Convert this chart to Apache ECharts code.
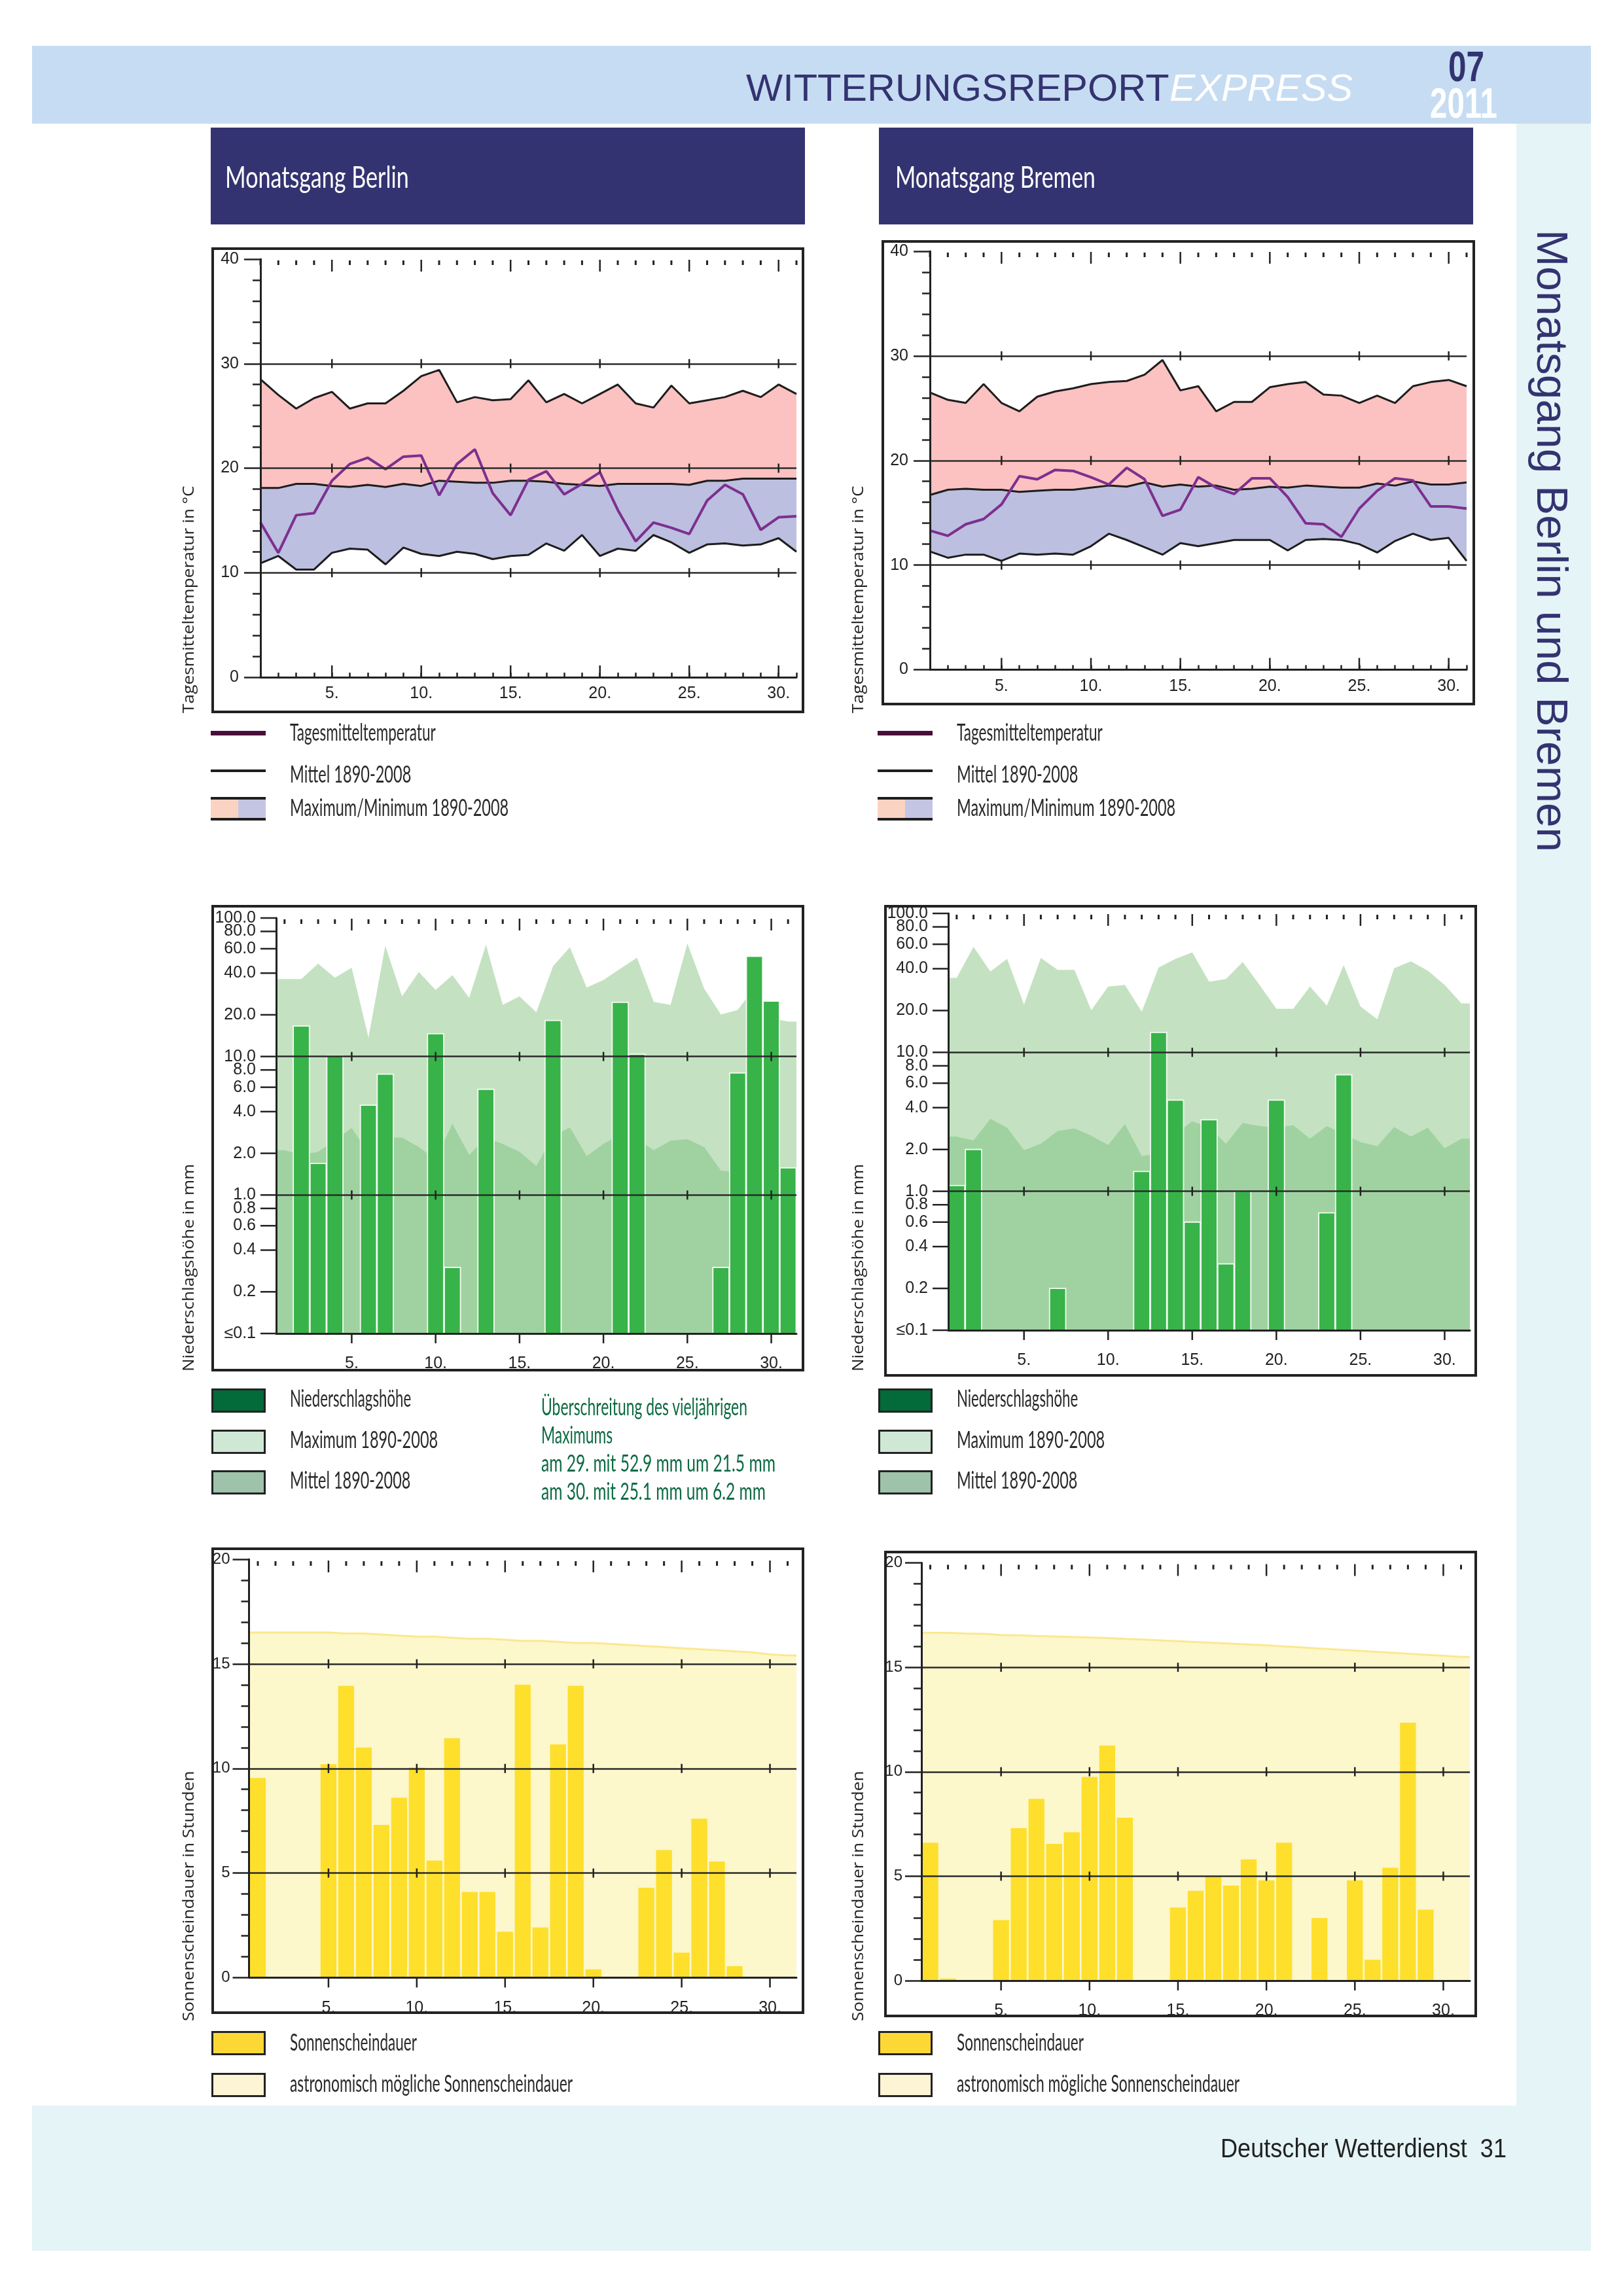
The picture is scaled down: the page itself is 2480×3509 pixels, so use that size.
<!DOCTYPE html>
<html>
<head>
<meta charset="utf-8">
<title>Monatsgang Berlin und Bremen</title>
<script src="https://cdn.jsdelivr.net/npm/echarts@6/dist/echarts.min.js"></script>
<style>
    html,body{margin:0;padding:0;background:#fff;}
    #page{position:relative;width:2480px;height:3509px;overflow:hidden;}
    #chart{position:absolute;left:0;top:0;width:2480px;height:3509px;}
    .fill{position:absolute;box-sizing:border-box;}
    .txt{position:absolute;white-space:pre;line-height:1;}
</style>
</head>
<body>
<div id="page"><div id="chart"></div></div>
<script>
    let days=[];
    for(let d=1;d<=31;d++){days.push(d);}
    let bigDays=[5,10,15,20,25,30];

    // Temperatur
    let berlinTempMax=[28.5,27.0,25.7,26.7,27.3,25.7,26.2,26.2,27.4,28.8,29.4,26.3,26.8,26.5,26.6,28.4,26.3,27.1,26.2,27.1,28.0,26.2,25.8,27.9,26.2,26.5,26.8,27.4,26.8,28.0,27.1];
    let berlinTempMean=[18.1,18.1,18.5,18.5,18.3,18.2,18.4,18.2,18.5,18.3,18.8,18.7,18.6,18.6,18.8,18.8,18.7,18.5,18.4,18.3,18.5,18.5,18.5,18.5,18.4,18.8,18.8,19.0,19.0,19.0,19.0];
    let berlinTempMin=[10.9,11.6,10.3,10.3,11.9,12.3,12.2,10.8,12.4,11.8,11.6,12.0,11.8,11.3,11.6,11.7,12.8,12.1,13.6,11.6,12.3,12.1,13.6,12.9,11.9,12.7,12.8,12.6,12.7,13.3,12.0];
    let berlinTemp=[14.8,11.9,15.5,15.7,18.8,20.4,21.0,19.9,21.1,21.2,17.4,20.4,21.8,17.6,15.5,18.9,19.7,17.5,18.5,19.6,16.0,13.0,14.8,14.3,13.7,16.9,18.4,17.5,14.1,15.3,15.4];
    let bremenTempMax=[26.5,25.8,25.5,27.3,25.5,24.7,26.1,26.6,26.9,27.3,27.5,27.6,28.2,29.6,26.7,27.1,24.7,25.6,25.6,27.0,27.3,27.5,26.3,26.2,25.5,26.2,25.5,27.1,27.5,27.7,27.1];
    let bremenTempMean=[16.7,17.2,17.3,17.2,17.2,17.0,17.1,17.2,17.2,17.4,17.6,17.5,17.9,17.5,17.7,17.5,17.6,17.2,17.3,17.5,17.4,17.6,17.5,17.4,17.4,17.8,17.6,18.0,17.7,17.7,17.9];
    let bremenTempMin=[11.3,10.7,11.0,11.0,10.4,11.1,11.0,11.1,11.0,11.8,13.0,12.4,11.7,11.0,12.1,11.8,12.1,12.4,12.4,12.4,11.4,12.4,12.5,12.4,12.0,11.2,12.3,13.0,12.4,12.6,10.4];
    let bremenTemp=[13.3,12.8,13.9,14.4,15.8,18.5,18.2,19.1,19.0,18.4,17.7,19.3,18.2,14.7,15.3,18.4,17.4,16.8,18.3,18.3,16.5,14.0,13.9,12.7,15.4,17.1,18.3,18.1,15.6,15.6,15.4];

    // Niederschlag
    let berlinRain=[null,16.6,1.69,10.1,null,4.45,7.46,null,null,14.6,0.3,null,5.8,null,null,null,18.2,null,null,null,24.6,10.4,null,null,null,null,0.3,7.6,52.9,25.1,1.57];
    let berlinRainMax=[36.3,36.3,46.8,37.1,43.7,13.7,63,27.2,40.8,30.2,38.7,26.5,64.2,23.6,27.2,20.9,44.9,61.5,31.5,35.7,43,51.7,24.8,23.6,65.6,31,20.1,21.7,31.4,18.9,17.9];
    let berlinRainMean=[2.11,1.95,2.05,2.47,3.05,2.0,2.6,2.6,2.22,1.8,3.27,1.95,2.6,2.34,2.05,1.62,2.67,3.08,1.91,2.34,2.74,2.53,2.11,2.47,2.53,2.22,1.5,1.46,1.46,1.38,1.38];
    let bremenRain=[1.1,2.0,null,null,null,null,0.2,null,null,null,null,1.39,13.9,4.53,0.6,3.27,0.3,1.0,null,4.53,null,null,0.7,6.9,null,null,null,null,null,null,null];
    let bremenRainMax=[34.4,57.5,38.2,47.1,22.1,47.9,39.2,39.2,20.1,29.8,30.6,19.6,40.8,47.1,52.4,32.3,33.7,44.7,30.6,20.6,20.6,29.8,21.7,42.4,21.4,17.3,40.3,45.2,38.7,30.6,22.5];
    let bremenRainMean=[2.48,2.32,3.32,2.87,1.98,2.2,2.72,2.84,2.51,2.15,3.05,1.79,1.88,2.58,3.19,2.9,2.2,3.1,2.95,2.87,2.99,2.39,2.95,2.58,2.26,2.11,2.9,2.48,2.87,2.04,2.39];
    let rainTicks=[0.1,0.2,0.4,0.6,0.8,1,2,4,6,8,10,20,40,60,80,100];
    let rainTickLabels=["≤0.1","0.2","0.4","0.6","0.8","1.0","2.0","4.0","6.0","8.0","10.0","20.0","40.0","60.0","80.0","100.0"];

    // Sonnenschein
    let berlinSun=[9.55,null,null,null,10.2,13.95,11.0,7.3,8.6,10.05,5.6,11.45,4.1,4.1,2.2,14.0,2.4,11.15,13.95,0.4,null,null,4.3,6.1,1.2,7.6,5.55,0.55,null,null,null];
    let berlinSunAstro=[16.5,16.5,16.5,16.5,16.5,16.45,16.45,16.4,16.35,16.3,16.3,16.25,16.2,16.2,16.15,16.1,16.1,16.05,16.0,16.0,15.95,15.9,15.85,15.8,15.75,15.7,15.65,15.6,15.55,15.45,15.4];
    let bremenSun=[6.6,0.1,null,null,2.9,7.3,8.7,6.55,7.1,9.75,11.25,7.8,null,null,3.5,4.3,5.0,4.55,5.8,4.8,6.6,null,3.0,null,4.8,1.0,5.4,12.35,3.4,null,null];
    let bremenSunAstro=[16.65,16.65,16.62,16.6,16.55,16.53,16.5,16.48,16.45,16.43,16.4,16.36,16.33,16.29,16.25,16.21,16.17,16.13,16.09,16.05,16,15.95,15.9,15.85,15.8,15.75,15.7,15.65,15.6,15.55,15.5];

    let ink="#222";
    let labelFont="Liberation Sans";
    let grid=[],xAxis=[],yAxis=[],series=[];

    // erzeugt ein Diagramm: Kategorie-Achse (Balken, Tage) + versteckte Wertachse (Flaechen, Striche)
    function addPanel(p){
        let i=grid.length;
        grid.push({left:p.left,top:p.top,width:p.right-p.left,height:p.bottom-p.top});
        let bars=p.bars;
        xAxis.push({
            type:"category",gridIndex:i,data:days,position:"bottom",boundaryGap:!!bars,z:10,
            axisLine:{onZero:false,lineStyle:{color:ink,width:3}},
            axisTick:{interval:0,alignWithLabel:true,inside:!bars,length:7,lineStyle:{color:ink,width:2.5}},
            axisLabel:{interval:function(k){return days[k]%5==0;},formatter:function(v){return v+".";},
                margin:p.xMargin,fontFamily:labelFont,fontSize:25,color:ink},
            splitLine:{show:false}
        });
        xAxis.push({type:"value",gridIndex:i,show:false,min:bars?0.5:1,max:bars?31.5:31,splitLine:{show:false}});
        let y={
            type:p.log?"log":"value",gridIndex:i,min:p.yMin,max:p.yMax,z:10,
            axisLine:{show:true,lineStyle:{color:ink,width:3}},
            splitLine:{show:true,showMinLine:false,showMaxLine:false,lineStyle:{color:"#2b2b2b",width:2.5}}
        };
        if(p.log){
            y.logBase=10;
            y.axisTick={show:false};
            y.axisLabel={show:false};
        }else{
            y.interval=p.yStep;
            y.axisTick={show:true,length:p.tickLen,lineStyle:{color:ink,width:2.5}};
            y.minorTick={show:true,splitNumber:5,length:12,lineStyle:{color:ink,width:2.5}};
            y.axisLabel={margin:p.yMargin,fontFamily:labelFont,fontSize:p.yFont,color:ink};
        }
        yAxis.push(y);

        let xv=2*i+1;
        // Flaechen
        p.areas.forEach(function(a){
            let pts=days.map(function(d,k){return [d,a.data[k]];});
            if(bars){
                pts.unshift([0.5,a.data[0]]);
                pts.push([31.5,a.data[30]]);
            }
            series.push({
                type:"line",xAxisIndex:xv,yAxisIndex:i,data:pts,symbol:"none",silent:true,z:2,
                lineStyle:{color:a.line||a.fill,width:a.line?a.width:0},
                areaStyle:{color:a.fill,opacity:1,origin:"start"}
            });
        });
        if(p.temp){
            series.push({
                type:"line",xAxisIndex:xv,yAxisIndex:i,symbol:"none",silent:true,z:3,
                data:days.map(function(d,k){return [d,p.temp[k]];}),
                lineStyle:{color:"#7d2f90",width:4}
            });
        }
        if(bars&&p.log){
            // log-Achse: ein Balken wuerde sonst bei 1.0 beginnen, deshalb vom Achsenminimum aus zeichnen
            let rainData=[];
            days.forEach(function(d,k){if(bars[k]!=null){rainData.push([d,bars[k]]);}});
            series.push({
                type:"custom",xAxisIndex:xv,yAxisIndex:i,data:rainData,z:4,silent:true,encode:{x:0,y:1},
                renderItem:function(params,api){
                    let d=api.value(0),v=api.value(1);
                    let top=api.coord([d-0.5,v]);
                    let end=api.coord([d+0.5,p.yMin]);
                    return {type:"rect",shape:{x:top[0]+0.5,y:top[1],width:end[0]-top[0]-1,height:end[1]-top[1]},
                        style:{fill:p.barColor,stroke:p.barBorder,lineWidth:1.8}};
                }
            });
        }else if(bars){
            series.push({
                type:"bar",xAxisIndex:2*i,yAxisIndex:i,data:bars,z:4,silent:true,
                barWidth:p.barWidth,
                itemStyle:{color:p.barColor}
            });
        }
        // Striche oben, auf den Linien und lange Striche an der x-Achse
        function marks(data,size,offset){
            series.push({
                type:"scatter",xAxisIndex:xv,yAxisIndex:i,data:data,symbol:"rect",symbolSize:size,
                symbolOffset:offset,clip:false,silent:true,z:11,itemStyle:{color:ink,opacity:1}
            });
        }
        let small=days.filter(function(d){return d%5!=0;});
        marks(small.map(function(d){return [d,p.yMax];}),[3,7],[0,p.topGap+3.5]);
        marks(bigDays.map(function(d){return [d,p.yMax];}),[2.5,18],[0,p.topGap+8]);
        let cross=[];
        p.levels.forEach(function(l){bigDays.forEach(function(d){cross.push([d,l]);});});
        marks(cross,[2.5,14],[0,0]);
        marks(bigDays.map(function(d){return [d,p.yMin];}),[2.5,p.longTick],[0,bars?p.longTick/2:-p.longTick/2]);

        // Log-Achse: Striche und Beschriftung direkt auf den Achsenwerten
        if(p.log){
            series.push({
                type:"scatter",xAxisIndex:xv,yAxisIndex:i,symbol:"rect",symbolSize:[p.tickLen,2.5],
                symbolOffset:[-p.tickLen/2,0],clip:false,silent:true,z:11,itemStyle:{color:ink,opacity:1},
                data:rainTicks.map(function(v,k){
                    return {value:[0.5,v],label:{show:true,position:"left",distance:7,formatter:rainTickLabels[k],
                        fontFamily:labelFont,fontSize:25,color:ink}};
                })
            });
        }
    }

    let tempCommon={yMin:0,yMax:40,yStep:10,levels:[10,20,30],tickLen:25,yMargin:33,yFont:25,xMargin:13,topGap:2,longTick:18};
    let rainCommon={log:true,yMin:0.1,yMax:100,levels:[1,10],tickLen:24,xMargin:34,topGap:2,longTick:15,
        barColor:"#37b34a",barBorder:"#f4fbf2"};
    let sunCommon={yMin:0,yMax:20,yStep:5,levels:[5,10,15],tickLen:25,yMargin:29,yFont:24,xMargin:34,topGap:3,longTick:15,
        barWidth:"90%",barColor:"#fedf2c"};

    function tempAreas(mx,mean,mn){
        return [{data:mx,fill:"#fcc1c1",line:"#1d1d1d",width:3},{data:mean,fill:"#bcbfdf",line:"#1d1d1d",width:3},{data:mn,fill:"#fff",line:"#1d1d1d",width:3}];
    }
    function rainAreas(mx,mean){
        return [{data:mx,fill:"#c4e2c1"},{data:mean,fill:"#9fd2a0"}];
    }
    function sunAreas(a){
        return [{data:a,fill:"#fdf7cc",line:"#fbe88f",width:3}];
    }

    addPanel(Object.assign({left:398,right:1217,top:396,bottom:1035,areas:tempAreas(berlinTempMax,berlinTempMean,berlinTempMin),temp:berlinTemp},tempCommon));
    addPanel(Object.assign({left:1421,right:2241,top:384,bottom:1023.5,areas:tempAreas(bremenTempMax,bremenTempMean,bremenTempMin),temp:bremenTemp},tempCommon));
    addPanel(Object.assign({left:422,right:1217,top:1403,bottom:2038,areas:rainAreas(berlinRainMax,berlinRainMean),bars:berlinRain},rainCommon));
    addPanel(Object.assign({left:1449,right:2246,top:1396,bottom:2033,areas:rainAreas(bremenRainMax,bremenRainMean),bars:bremenRain},rainCommon));
    addPanel(Object.assign({left:380.5,right:1217,top:2383,bottom:3022.5,areas:sunAreas(berlinSunAstro),bars:berlinSun},sunCommon));
    addPanel(Object.assign({left:1408,right:2246,top:2388.5,bottom:3027,areas:sunAreas(bremenSunAstro),bars:bremenSun},sunCommon));

    let page=document.getElementById("page");
    let chartDiv=document.getElementById("chart");

    // Rechtecke der Seite
    function box(x,y,w,h,bg,border){
        let e=document.createElement("div");
        e.className="fill";
        e.style.cssText="left:"+x+"px;top:"+y+"px;width:"+w+"px;height:"+h+"px;background:"+(bg||"transparent")+";"+(border?"border:"+border+";":"");
        page.insertBefore(e,chartDiv);
    }
    // Text wird auf die Breite aus der Vorlage gestaucht; cy = vertikale Mitte
    function text(str,x,cy,w,size,color,opt){
        opt=opt||{};
        let e=document.createElement("span");
        e.className="txt";
        e.textContent=str;
        e.style.fontFamily=opt.font||"Lato, 'Liberation Sans'";
        e.style.fontSize=size+"px";
        e.style.fontWeight=opt.weight||"normal";
        e.style.fontStyle=opt.italic?"italic":"normal";
        e.style.color=color;
        e.style.left=x+"px";
        e.style.top=(cy-size/2)+"px";
        e.style.transformOrigin="0 50%";
        page.appendChild(e);
        let k=w/e.offsetWidth;
        e.style.transform=(opt.rotate?"rotate("+opt.rotate+"deg) ":"")+"scaleX("+k+")";
    }

    let navy="#343371",head="'Liberation Sans'";
    box(49,70,2382,119,"#c6dcf2");
    box(2317,189,114,3029,"#e5f4f6");
    box(49,3218,2382,222,"#e5f4f6");
    box(322,195,908,148,navy);
    box(1343,195,908,148,navy);
    text("WITTERUNGSREPORT",1140,134,647,58,navy,{font:head});
    text("EXPRESS",1787,134,280,58,"#fff",{font:head,italic:true});
    text("07",2213,102,55,64,navy,{font:head,weight:"bold"});
    text("2011",2185,158,103,64,"#fff",{font:head,weight:"bold"});
    text("Monatsgang Berlin",344,270,281,46,"#fff");
    text("Monatsgang Bremen",1368,270,306,46,"#fff");
    text("Monatsgang Berlin und Bremen",2372,351,951,66,navy,{font:head,rotate:90});
    text("Deutscher Wetterdienst  31",1865,3283,437,41,"#222",{font:head});

    // Rahmen
    box(323,378,906,712,"",  "4px solid #222");
    box(1347,367,907,711,"", "4px solid #222");
    box(323,1383,906,713,"", "4px solid #222");
    box(1351,1383,906,721,"","4px solid #222");
    box(323,2365,906,713,"", "4px solid #222");
    box(1351,2370,906,713,"","4px solid #222");

    // Achsentitel, Legenden
    [0,1023].forEach(function(dx){
        let side={font:"'Open Sans'",rotate:-90};
        text("Tagesmitteltemperatur in °C",287+dx,1090,348,24,"#222",side);
        text("Niederschlagshöhe in mm",287+dx,2096,317,24,"#222",side);
        text("Sonnenscheindauer in Stunden",287+dx,3089,382,24,"#222",side);
    });
    let legendInk="#2a2a2a";
    [0,1019].forEach(function(dx){
        box(322+dx,1117,84,7,"#4a0d3a");
        box(322+dx,1176,84,4,"#1d1d1d");
        box(322+dx,1218,42,35,"#fbd3c3");
        box(364+dx,1218,42,35,"#c4c5e3");
        box(322+dx,1218,84,4,"#1d1d1d");
        box(322+dx,1250,84,4,"#1d1d1d");
        text("Tagesmitteltemperatur",443+dx,1118,223,36,legendInk);
        text("Mittel 1890-2008",443+dx,1182,185,36,legendInk);
        text("Maximum/Minimum 1890-2008",443+dx,1233,334,36,legendInk);
        box(323+dx,2122,83,37,"#036a3a","3px solid #222");
        box(323+dx,2185,83,37,"#cfe8d5","3px solid #222");
        box(323+dx,2247,83,37,"#9fc2aa","3px solid #222");
        text("Niederschlagshöhe",443+dx,2136,185,36,legendInk);
        text("Maximum 1890-2008",443+dx,2199,226,36,legendInk);
        text("Mittel 1890-2008",443+dx,2261,184,36,legendInk);
        box(323+dx,3104,83,37,"#fdd835","3px solid #222");
        box(323+dx,3168,83,37,"#fdf4d6","3px solid #222");
        text("Sonnenscheindauer",443+dx,3120,194,36,legendInk);
        text("astronomisch mögliche Sonnenscheindauer",443+dx,3183,432,36,legendInk);
    });
    let noteGreen="#0c6a42";
    text("Überschreitung des vieljährigen",827,2149,315,36,noteGreen);
    text("Maximums",827,2192,109,36,noteGreen);
    text("am 29. mit 52.9 mm um 21.5 mm",827,2235,358,36,noteGreen);
    text("am 30. mit 25.1 mm um 6.2 mm",827,2278,343,36,noteGreen);

    let myChart=echarts.init(chartDiv,null,{renderer:"canvas"});
    myChart.setOption({
        animation:false,
        backgroundColor:"transparent",
        grid:grid,
        xAxis:xAxis,
        yAxis:yAxis,
        series:series
    });
</script>
</body>
</html>
